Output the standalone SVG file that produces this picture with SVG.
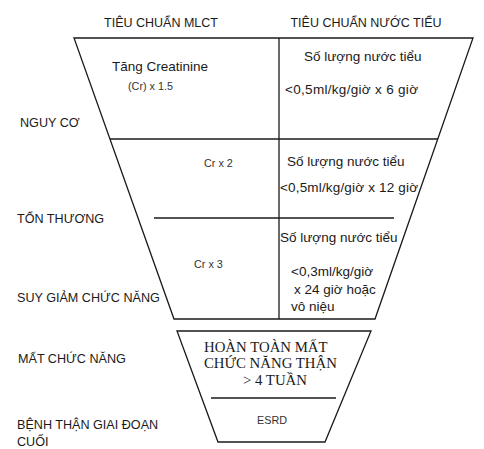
<svg xmlns="http://www.w3.org/2000/svg" width="484" height="449" viewBox="0 0 484 449">
<style>
.ln{stroke:#1a1a1a;stroke-width:1.3;fill:none}
.h{font-family:"Liberation Sans",Arial,sans-serif;font-size:12.5px;fill:#1a1a1a}
.lb{font-family:"Liberation Sans",Arial,sans-serif;font-size:12.6px;fill:#1a1a1a}
.t{font-family:"Liberation Sans",Arial,sans-serif;font-size:13.5px;fill:#1a1a1a}
.s{font-family:"Liberation Sans",Arial,sans-serif;font-size:10.8px;fill:#333}
.sf{font-family:"Liberation Serif","Times New Roman",serif;font-size:14.8px;fill:#1a1a1a}
</style>
<rect width="484" height="449" fill="#fff"/>
<g id="headers">
<text class="h" x="161" y="27" text-anchor="middle">TIÊU CHUẨN MLCT</text>
<text class="h" x="366" y="27" text-anchor="middle">TIÊU CHUẨN NƯỚC TIỂU</text>
</g>
<g id="labels">
<text class="lb" x="20" y="127">NGUY CƠ</text>
<text class="lb" x="17" y="223">TỔN THƯƠNG</text>
<text class="lb" x="17" y="302">SUY GIẢM CHỨC NĂNG</text>
<text class="lb" x="18" y="363">MẤT CHỨC NĂNG</text>
<text class="lb" x="17" y="429">BỆNH THẬN GIAI ĐOẠN</text>
<text class="lb" x="17" y="446">CUỐI</text>
</g>
<g id="funnel-top">
<polygon class="ln" points="74,38 473,38 375,319 174,319"/>
<line class="ln" x1="279" y1="38" x2="279" y2="319"/>
<line class="ln" x1="110" y1="139" x2="438" y2="139"/>
<line class="ln" x1="154" y1="218" x2="394" y2="218"/>
</g>
<g id="nguy-co">
<text class="t" x="112" y="71">Tăng Creatinine</text>
<text class="s" x="128" y="90">(Cr) x 1.5</text>
<text class="t" x="304" y="61">Số lượng nước tiểu</text>
<text class="t" x="285" y="94" textLength="133" lengthAdjust="spacing">&lt;0,5ml/kg/giờ x 6 giờ</text>
</g>
<g id="ton-thuong">
<text class="s" x="204" y="167">Cr x 2</text>
<text class="t" x="287" y="166">Số lượng nước tiểu</text>
<text class="t" x="280" y="192" textLength="138" lengthAdjust="spacing">&lt;0,5ml/kg/giờ x 12 giờ</text>
</g>
<g id="suy-giam">
<text class="s" x="194" y="268">Cr x 3</text>
<text class="t" x="280" y="242">Số lượng nước tiểu</text>
<text class="t" x="291" y="276">&lt;0,3ml/kg/giờ</text>
<text class="t" x="294" y="294">x 24 giờ hoặc</text>
<text class="t" x="291" y="311">vô niệu</text>
</g>
<g id="funnel-bottom">
<polygon class="ln" points="177,331 371,331 325,442 218,442"/>
<line class="ln" x1="211" y1="398" x2="336" y2="398"/>
</g>
<g id="mat-chuc-nang">
<text class="sf" x="204" y="352">HOÀN TOÀN MẤT</text>
<text class="sf" x="204" y="368">CHỨC NĂNG THẬN</text>
<text class="sf" x="243" y="385">&gt; 4 TUẦN</text>
</g>
<g id="esrd">
<text class="s" x="257" y="424">ESRD</text>
</g>
<g id="connectors"></g>
</svg>
